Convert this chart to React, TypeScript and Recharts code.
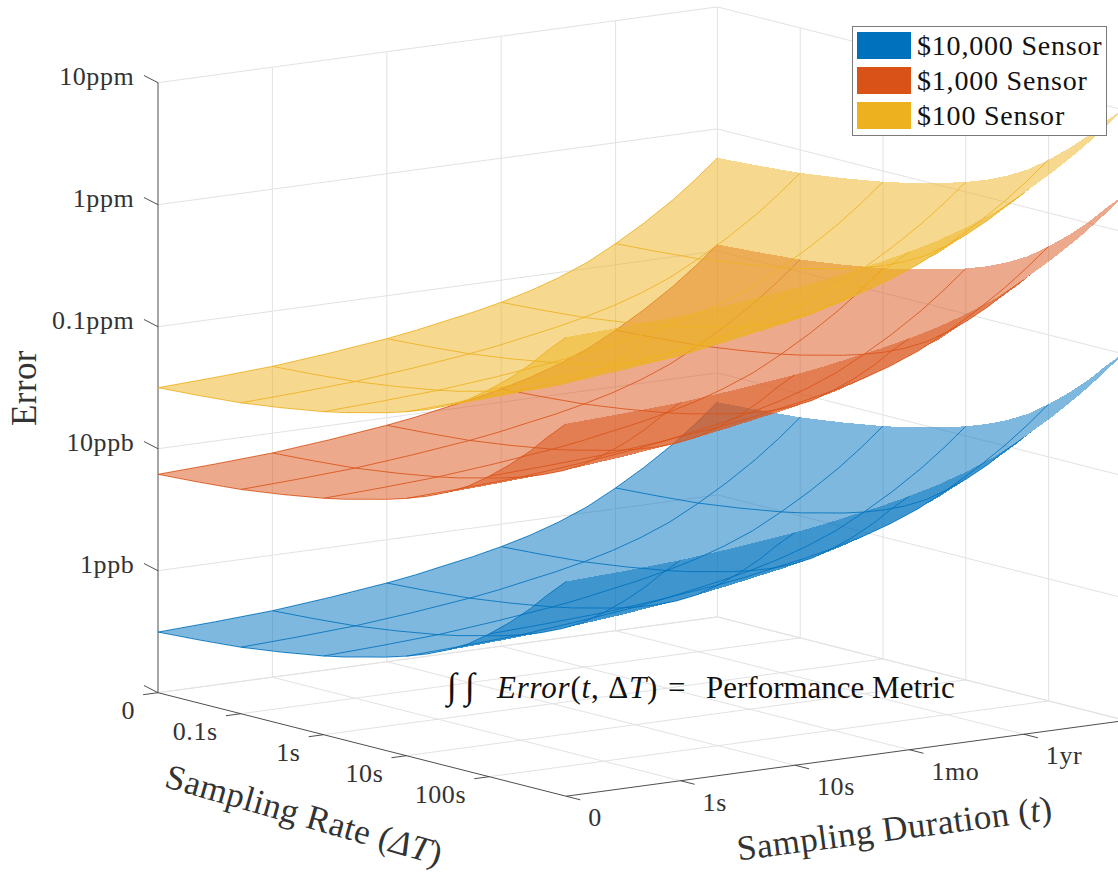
import { ScatterChart, Scatter, XAxis, YAxis, Legend } from 'recharts';

// sample positions along each floor axis, in tick units
const durationSteps = [0, 0.5, 1, 1.5, 2, 2.25, 2.5, 2.75, 3, 3.25, 3.5, 3.75, 4, 4.25, 4.5, 4.7, 4.89];
const rateSteps = [0, 0.5, 1, 1.5, 2, 2.25, 2.5, 2.75, 3, 3.25, 3.5, 3.75, 4, 4.25, 4.5, 4.7, 4.93];

// error growth, in decades
const durationError = [0, 0.021, 0.048, 0.093, 0.148, 0.183, 0.226, 0.268, 0.319, 0.38, 0.456, 0.55, 0.673, 0.811, 0.968, 1.112, 1.263];
const rateError = [0, 0.021, 0.048, 0.093, 0.148, 0.183, 0.226, 0.268, 0.319, 0.38, 0.456, 0.55, 0.673, 0.811, 0.968, 1.112, 1.263];

const sensorNames = ['$10,000 Sensor', '$1,000 Sensor', '$100 Sensor'];
const sensorFloor = [0.497, 1.79, 2.5];
const sensorColors = ['#0072BD', '#D95319', '#EDB120'];

const errorTicks = ['', '1ppb', '10ppb', '0.1ppm', '1ppm', '10ppm'];
const rateTicks = ['0', '0.1s', '1s', '10s', '100s'];
const durationTicks = ['0', '1s', '10s', '1mo', '1yr'];

const WIDTH = 1118;
const HEIGHT = 873;
const T_END = durationSteps[durationSteps.length - 1];
const D_END = rateSteps[rateSteps.length - 1];
const Z_TOP = errorTicks.length - 1;
const GRID = '#e2e2e2';
const AXIS = '#3a3a3a';
const SERIF = '"Liberation Serif", serif';

// fixed view of the 3D box
const project = (t: number, d: number, z: number) => ({
  x: 158 + 114.4 * t + 82.8 * d,
  y: 692.7 - 15.5 * t + 21 * d - 122 * z,
});

const seg = (a: number[], b: number[]) => [project(a[0], a[1], a[2]), project(b[0], b[1], b[2])];

const noDot = () => null;

const gridLines: { x: number; y: number }[][] = [];
errorTicks.forEach((_, z) => {
  gridLines.push(seg([0, 0, z], [T_END, 0, z]));
  gridLines.push(seg([T_END, 0, z], [T_END, D_END, z]));
});
[1, 2, 3, 4, T_END].forEach((t) => {
  gridLines.push(seg([t, 0, 0], [t, 0, Z_TOP]));
  gridLines.push(seg([t, 0, 0], [t, D_END, 0]));
});
[1, 2, 3, 4].forEach((d) => {
  gridLines.push(seg([T_END, d, 0], [T_END, d, Z_TOP]));
  gridLines.push(seg([0, d, 0], [T_END, d, 0]));
});
gridLines.push(seg([0, 0, 0], [T_END, 0, 0]));

const axisLines = [
  seg([0, 0, 0], [0, 0, Z_TOP]),
  seg([0, 0, 0], [0, D_END, 0]),
  seg([0, D_END, 0], [T_END, D_END, 0]),
];
errorTicks.forEach((_, z) => axisLines.push(seg([0, 0, z], [0, -0.17, z + 0.03])));
rateTicks.forEach((_, d) => axisLines.push(seg([0, d, 0], [-0.13, d, 0])));
durationTicks.forEach((_, t) => axisLines.push(seg([t, D_END, 0], [t, D_END + 0.17, 0])));

const surfacePoint = (s: number, i: number, j: number) =>
  project(durationSteps[i], rateSteps[j], sensorFloor[s] + durationError[i] + rateError[j]);

// one polygon per strip of rate samples, so the fold of the sheet shows as a darker overlap
const surfaceStrips = (s: number) =>
  rateSteps.slice(1).map((_, j) => [
    ...durationSteps.map((__, i) => surfacePoint(s, i, j)),
    ...durationSteps.map((__, i) => surfacePoint(s, durationSteps.length - 1 - i, j + 1)),
  ]);

const surfaceMesh = (s: number) => {
  const lines: { x: number; y: number }[][] = [];
  durationSteps.forEach((t, i) => {
    if (Number.isInteger(t) && t < 5) lines.push(rateSteps.map((__, j) => surfacePoint(s, i, j)));
  });
  rateSteps.forEach((d, j) => {
    if (Number.isInteger(d) && d < 5) lines.push(durationSteps.map((__, i) => surfacePoint(s, i, j)));
  });
  return lines;
};

const tickLabels = [
  ...errorTicks.map((label, z) => {
    const p = project(0, 0, z);
    return { x: p.x - 23.6, y: p.y + 2, label, anchor: 'end' };
  }),
  ...rateTicks.map((label, d) => {
    const p = project(0, d, 0);
    return { x: p.x - 23, y: p.y + 26.5, label, anchor: 'end' };
  }),
  ...durationTicks.map((label, t) => {
    const p = project(t, D_END, 0);
    return { x: p.x + 22, y: p.y + 30, label, anchor: 'start' };
  }),
];

const titles = [
  { x: 36, y: 388, label: 'Error', angle: -90 },
  { x: 301, y: 826, label: 'Sampling Rate (', tail: 'ΔT', angle: 16 },
  { x: 896, y: 840, label: 'Sampling Duration (', tail: 't', angle: -7.4 },
];

function TickText({ cx, cy, payload }: any) {
  return (
    <text x={cx} y={cy} textAnchor={payload.anchor} fontSize={26} letterSpacing={0.6} fontFamily={SERIF} fill="#333">
      {payload.label}
    </text>
  );
}

function TitleText({ cx, cy, payload }: any) {
  return (
    <text
      x={cx}
      y={cy}
      textAnchor="middle"
      fontSize={35}
      letterSpacing={0.4}
      fontFamily={SERIF}
      fill="#333"
      transform={`rotate(${payload.angle} ${cx} ${cy})`}
    >
      {payload.label}
      {payload.tail && <tspan fontStyle="italic">{payload.tail}</tspan>}
      {payload.tail && ')'}
    </text>
  );
}

function NoteText({ cx, cy }: any) {
  return (
    <text x={cx} y={cy} fontSize={31} fontFamily={SERIF} fill="#111">
      <tspan fontSize={36}>∫</tspan>
      <tspan fontSize={36} dx={8}>∫</tspan>
      <tspan x={cx + 50} fontStyle="italic" letterSpacing={0.8}>Error</tspan>
      <tspan letterSpacing={0.8}>(</tspan>
      <tspan fontStyle="italic" letterSpacing={0.8}>t</tspan>
      <tspan letterSpacing={0.8}>, Δ</tspan>
      <tspan fontStyle="italic" letterSpacing={0.8}>T</tspan>
      <tspan letterSpacing={0.8}>)</tspan>
      <tspan x={cx + 221}>=</tspan>
      <tspan x={cx + 259}>Performance Metric</tspan>
    </text>
  );
}

function SensorLegend() {
  return (
    <div
      style={{
        width: 255,
        height: 110,
        background: '#fff',
        border: '1.5px solid #7a7a7a',
        boxSizing: 'border-box',
        padding: '0.5px 0 0 4px',
        fontFamily: SERIF,
        fontSize: 28,
        letterSpacing: 0.8,
        color: '#111',
      }}
    >
      {sensorNames.map((name, i) => (
        <div key={name} style={{ display: 'flex', alignItems: 'center', height: 35.4 }}>
          <span style={{ width: 54, height: 27, background: sensorColors[i], marginRight: 6, display: 'block' }} />
          <span style={{ whiteSpace: 'nowrap', lineHeight: '27px' }}>{name}</span>
        </div>
      ))}
    </div>
  );
}

export default function App() {
  return (
    <div style={{ position: 'absolute', left: 0, top: 0, width: WIDTH, height: HEIGHT, background: '#fff' }}>
      <style>{`.sheet path { shape-rendering: crispEdges; }`}</style>
      <ScatterChart width={WIDTH} height={HEIGHT} margin={{ top: 0, right: 0, bottom: 0, left: 0 }}>
        <XAxis type="number" dataKey="x" domain={[0, WIDTH]} allowDataOverflow hide />
        <YAxis type="number" dataKey="y" domain={[0, HEIGHT]} allowDataOverflow reversed hide />

        {gridLines.map((pts, i) => (
          <Scatter key={`grid-${i}`} data={pts} shape={noDot} lineType="joint" line={{ stroke: GRID, strokeWidth: 1 }} isAnimationActive={false} />
        ))}
        {axisLines.map((pts, i) => (
          <Scatter key={`axis-${i}`} data={pts} shape={noDot} lineType="joint" line={{ stroke: AXIS, strokeWidth: 0.9 }} isAnimationActive={false} />
        ))}

        {sensorColors.flatMap((color, s) => [
          ...surfaceStrips(s).map((pts, j) => (
            <Scatter
              key={`strip-${s}-${j}`}
              className="sheet"
              data={pts}
              shape={noDot}
              lineType="joint"
              line={{ fill: color, fillOpacity: 0.5, stroke: 'none' }}
              isAnimationActive={false}
            />
          )),
          ...surfaceMesh(s).map((pts, j) => (
            <Scatter
              key={`mesh-${s}-${j}`}
              data={pts}
              shape={noDot}
              lineType="joint"
              line={{ stroke: color, strokeWidth: 1, strokeOpacity: 0.85 }}
              isAnimationActive={false}
            />
          )),
        ])}

        <Scatter data={tickLabels} shape={TickText} isAnimationActive={false} />
        <Scatter data={titles} shape={TitleText} isAnimationActive={false} />
        <Scatter data={[{ x: 447, y: 698 }]} shape={NoteText} isAnimationActive={false} />

        <Legend
          layout="vertical"
          align="center"
          verticalAlign="middle"
          content={SensorLegend}
          wrapperStyle={{ position: 'absolute', left: 852, top: 26, width: 255, height: 110 }}
        />
      </ScatterChart>
    </div>
  );
}
